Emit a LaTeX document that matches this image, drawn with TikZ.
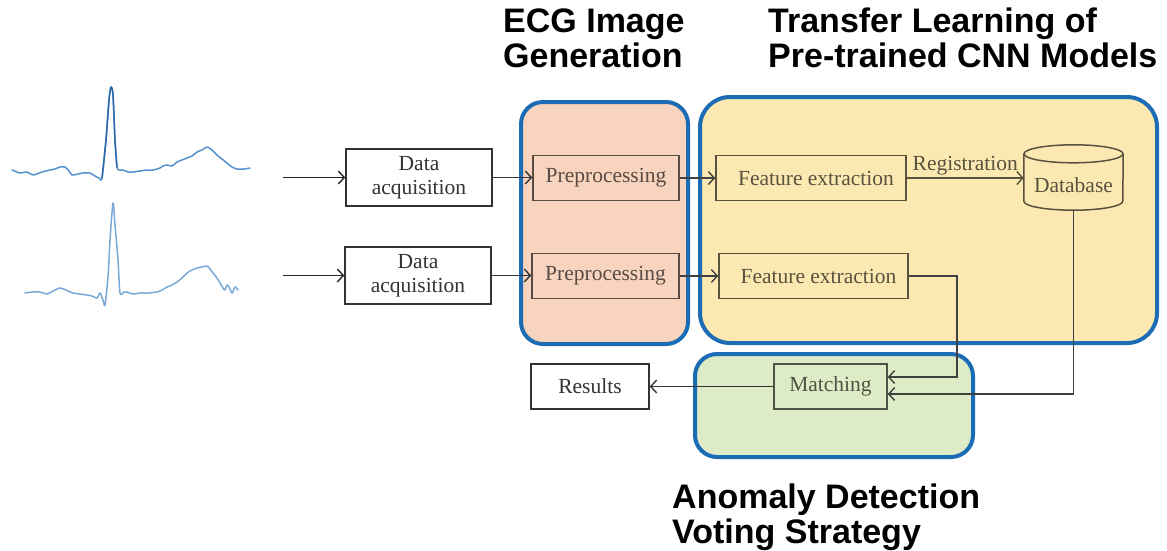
\documentclass[tikz,border=0pt]{standalone}
\usepackage{fontspec}
\setmainfont{Liberation Serif}
\newfontfamily\headfont{Liberation Sans}
\usetikzlibrary{arrows.meta,calc}

\definecolor{frameblue}{RGB}{27,108,180}
\definecolor{peach}{RGB}{248,212,190}
\definecolor{sand}{RGB}{252,233,178}
\definecolor{sage}{RGB}{221,236,198}
\definecolor{ecgblue}{RGB}{120,170,215}
\definecolor{ecgmid}{RGB}{85,145,205}
\definecolor{ecgdark}{RGB}{45,105,170}

\begin{document}
\begin{tikzpicture}[x=1pt,y=-1pt,
  region/.style={draw=frameblue, line width=4pt, rounded corners=22pt},
  block/.style={draw=#1, text=#1, line width=1.5pt, minimum height=45,
    inner sep=0pt, align=center, font=\fontsize{21.5}{24}\selectfont},
  wire/.style={draw=#1, line width=1.5pt},
  arr/.style={draw=#1, line width=1.4pt,
    -{Straight Barb[length=6pt,width=13pt,line width=1.4pt]}},
  heading/.style={anchor=base west, align=left, inner sep=0pt,
    font=\headfont\bfseries\fontsize{34}{35}\selectfont},
  ecg/.style={line width=1.5pt, line join=round, line cap=round}
]
% canvas
\fill[white] (0,0) rectangle (1167,550);
\useasboundingbox (0,0) rectangle (1167,550);

% stage regions
\path[region, fill=peach] (521,102) rectangle (688,344);
\path[region, fill=sand, rounded corners=30pt] (700,97) rectangle (1157,343);
\path[region, fill=sage] (695,354) rectangle (973,457);

% headings (base anchor sits on the last line)
\node[heading] (hA) at (503,67) {ECG Image\\Generation};
\node[heading] (hB) at (768,67) {Transfer Learning of\\Pre-trained CNN Models};
\node[heading] (hC) at (672,543) {Anomaly Detection\\Voting Strategy};

% ECG traces
\draw[ecg, ecgmid] plot[smooth, tension=0.45] coordinates {
 (12,170) (20,173) (27,172) (33,175) (42,172) (50,170) (55,169) (60,167)
 (65,167) (69,171) (72,175) (78,174) (83,173) (90,173) (95,176) (99,178)
 (102,178) (106,140) (109,100) (111,87) (113,95) (115,140) (117,167)
 (120,170) (123,170) (128,172) (133,172) (140,171) (147,170) (153,170)
 (160,168) (163,166) (167,165) (172,166) (177,162) (182,160) (187,158)
 (192,156) (197,152) (202,150) (207,147) (212,150) (217,155) (222,159)
 (227,163) (232,167) (237,169) (244,169) (250,168)};
\draw[ecg, ecgdark] plot[smooth, tension=0.45] coordinates {
 (102,178) (106,140) (109,100) (111,87) (113,95) (115,140) (117,167)};
\draw[ecg, ecgblue] plot[smooth, tension=0.45] coordinates {
 (25,293) (32,292) (40,292) (47,294) (53,291) (60,288) (66,290) (73,293)
 (80,294) (87,295) (92,296) (97,298) (100,293) (103,300) (105,305)
 (108,277) (110,240) (113,203) (115,225) (118,260) (120,293) (124,292)
 (127,292) (133,294) (140,293) (148,293) (157,292) (162,290) (167,287)
 (172,285) (177,282) (182,278) (187,273) (192,270) (197,268) (202,267)
 (207,266) (210,269) (213,273) (217,278) (220,283) (223,288) (225,290)
 (227,285) (229,287) (232,293) (235,287) (238,290)};

% blocks
\node[block=black!80, fill=white, minimum width=146, minimum height=57] (da1) at (419,177.5) {Data\\acquisition};
\node[block=black!80, fill=white, minimum width=146, minimum height=57] (da2) at (418,275.5) {Data\\acquisition};
\node[block=peach!35!black, minimum width=146] (pp1) at (606,178) {Preprocessing};
\node[block=peach!35!black, minimum width=147] (pp2) at (605.5,276) {Preprocessing};
\node[block=sand!35!black, minimum width=190] (fe1) at (811,178) {\hspace*{10pt}Feature extraction};
\node[block=sand!35!black, minimum width=189] (fe2) at (813.5,276) {\hspace*{10pt}Feature extraction};
\node[block=sage!35!black, minimum width=113] (mt) at (830.5,386.5) {Matching};
\node[block=black!80, fill=white, minimum width=118] (rs) at (590,386.5) {Results};

% database cylinder
\node[minimum width=99, minimum height=65, inner sep=0pt] (db) at (1073.5,177.5) {};
\draw[wire=sand!35!black]
  ($(db.north west)+(0,9)$) -- ($(db.south west)+(0,-9)$)
  arc[start angle=180, end angle=0, x radius=49.5, y radius=9]
  -- ($(db.north east)+(0,9)$);
\draw[wire=sand!35!black]
  ($(db.north)+(0,9)$) ellipse[x radius=49.5, y radius=9];
\node[text=sand!35!black, font=\fontsize{21.5}{24}\selectfont] (dbt) at ($(db.center)+(0,8)$) {Database};

% signal inputs
\coordinate (in1) at (283,177.5);
\coordinate (in2) at (283,275.5);
\draw[arr=black!85] (in1) -- (da1.west);
\draw[arr=black!85] (in2) -- (da2.west);

% pipeline connectors
\draw[arr=black!80] (da1.east) -- (da1.east -| pp1.west);
\draw[arr=black!80] (da2.east) -- (da2.east -| pp2.west);
\draw[arr=black!75] (pp1.east) -- (fe1.west);
\draw[arr=black!75] (pp2.east) -- (fe2.west);
\draw[arr=sand!35!black] (fe1.east) -- (fe1.east -| db.west)
  node[midway, above=2pt, text=sand!35!black, font=\fontsize{21.5}{24}\selectfont, inner sep=0pt] (reg) {Registration};

% query and enrolled features to matching
\coordinate (qf) at (957,377);
\coordinate (ef) at (1073.5,394);
\draw[arr=black!75] (fe2.east) -| (qf) -- (mt.east |- qf);
\draw[arr=black!75] (db.south) -- (ef) -- (mt.east |- ef);

% decision output
\draw[arr=black!80] (mt.west) -- (rs.east);
\end{tikzpicture}
\end{document}
